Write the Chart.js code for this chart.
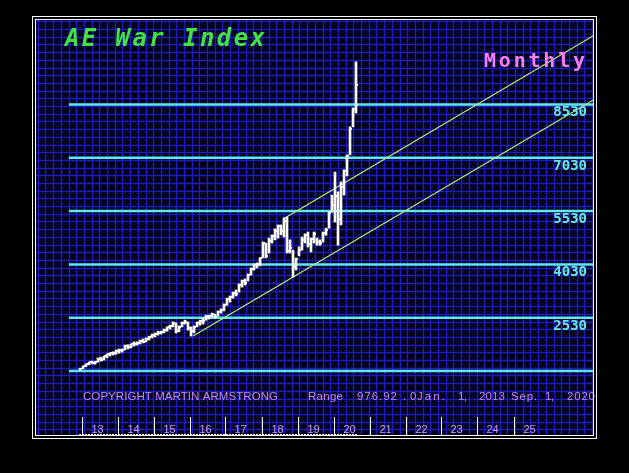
<!DOCTYPE html>
<html>
<head>
<meta charset="utf-8">
<script src="https://cdn.jsdelivr.net/npm/chart.js@4.4.1/dist/chart.umd.min.js"></script>
<style>
html, body { margin:0; padding:0; background:#000; }
#wrap { width:629px; height:473px; }
</style>
</head>
<body>
<div id="wrap"><canvas id="chart" width="629" height="473"></canvas></div>
<script>
// monthly bars, index 0 = Jan 2013 ... 92 = Sep 2020
const lows = [
  1060, 1090, 1150, 1200, 1230, 1220, 1280, 1310, 1340, 1400, 1450, 1480,
  1500, 1530, 1560, 1620, 1650, 1680, 1730, 1760, 1790, 1820, 1850, 1900,
  1960, 1990, 2040, 2070, 2100, 2150, 2210, 2270, 2100, 2130, 2270, 2350,
  2180, 2015, 2100, 2270, 2320, 2350, 2460, 2490, 2550, 2520, 2570, 2660,
  2720, 2880, 2970, 3080, 3140, 3250, 3390, 3450, 3560, 3730, 3870, 3930,
  3990, 4210, 4210, 4350, 4630, 4720, 4770, 4860, 4800, 4350, 4350, 3670,
  3870, 4270, 4430, 4630, 4520, 4380, 4630, 4570, 4570, 4660, 4850, 5050,
  5500, 5220, 4570, 5140, 5980, 6520, 7110, 7900, 8290
];
const highs = [
  1110, 1170, 1230, 1280, 1310, 1300, 1400, 1420, 1450, 1510, 1540, 1570,
  1620, 1650, 1650, 1760, 1770, 1790, 1850, 1850, 1900, 1930, 1960, 2010,
  2070, 2100, 2150, 2150, 2210, 2270, 2320, 2410, 2380, 2300, 2410, 2460,
  2410, 2270, 2300, 2410, 2460, 2520, 2600, 2600, 2660, 2630, 2720, 2780,
  2920, 3080, 3140, 3250, 3310, 3480, 3590, 3620, 3760, 3930, 4040, 4070,
  4220, 4660, 4630, 4770, 4860, 5030, 5140, 5140, 5340, 5360, 4720, 4430,
  4210, 4520, 4800, 4890, 4940, 4770, 4940, 4770, 4720, 4940, 5050, 5500,
  5980, 6630, 6070, 6350, 6690, 7110, 7900, 8430, 9730
];
const closes = [
  1100, 1160, 1220, 1270, 1250, 1290, 1380, 1340, 1440, 1500, 1530, 1540,
  1600, 1620, 1630, 1740, 1700, 1780, 1800, 1820, 1880, 1850, 1940, 1990,
  2040, 2080, 2100, 2140, 2190, 2260, 2300, 2380, 2150, 2280, 2390, 2420,
  2230, 2150, 2280, 2390, 2430, 2450, 2580, 2570, 2620, 2560, 2690, 2750,
  2900, 3050, 3100, 3220, 3200, 3450, 3560, 3520, 3730, 3900, 4000, 4040,
  4200, 4620, 4280, 4700, 4830, 4960, 5100, 4980, 5250, 4400, 4500, 3950,
  4190, 4440, 4720, 4850, 4600, 4740, 4880, 4650, 4640, 4900, 5000, 5480,
  5700, 5950, 5300, 6200, 6650, 7080, 7850, 8400, 9080
];
const levels = [1030, 2530, 4030, 5530, 7030, 8530];
const levelLabels = ["", "2530", "4030", "5530", "7030", "8530"];
const levelStart = -3.7;
const trendLower = [{x: 37.7, y: 2015}, {x: 171.4, y: 8670}];
const trendUpper = [{x: 68.3, y: 5336}, {x: 171.4, y: 10480}];
const yearLabels = ["13","14","15","16","17","18","19","20","21","22","23","24","25"];
const footer = [
  ["COPYRIGHT MARTIN ARMSTRONG", 83, 195],
  ["Range", 308, 35],
  ["976.92", 357, 40],
  [".", 403, 0],
  ["0", 410, 0],
  ["Jan.", 417, 28],
  ["1,", 458, 9],
  ["2013", 479, 26],
  ["Sep.", 511, 26],
  ["1,", 545, 9],
  ["2020", 567, 28]
];

// close tick drawn on the right of each bar
const tick = document.createElement('canvas');
tick.width = 6; tick.height = 2;
const tctx = tick.getContext('2d');
tctx.fillStyle = '#ffffff';
tctx.fillRect(3, 0, 2, 2);

function fitText(ctx, text, x, y, width) {
  ctx.letterSpacing = '0px';
  const w0 = ctx.measureText(text).width;
  if (width > 0 && text.length > 1) {
    ctx.letterSpacing = ((width - w0) / (text.length - 1)) + 'px';
  }
  ctx.textAlign = 'left';
  ctx.fillText(text, x, y);
  ctx.letterSpacing = '0px';
}

const panel = {
  id: 'panel',
  beforeDraw(chart) {
    const ctx = chart.ctx;
    ctx.save();
    ctx.fillStyle = '#000';
    ctx.fillRect(0, 0, chart.width, chart.height);
    ctx.fillStyle = '#000012';
    ctx.fillRect(35, 19, 559, 417);
    ctx.strokeStyle = '#1c1cc4';
    ctx.lineWidth = 1.4;
    ctx.beginPath();
    for (let x = 37.7; x < 594; x += 7.7) {
      ctx.moveTo(Math.round(x) + 0.5, 19); ctx.lineTo(Math.round(x) + 0.5, 436);
    }
    for (let y = 21.3; y < 436; y += 7.7) {
      ctx.moveTo(35, Math.round(y) + 0.5); ctx.lineTo(594, Math.round(y) + 0.5);
    }
    ctx.stroke();
    ctx.restore();
  },
  afterDraw(chart) {
    const ctx = chart.ctx;
    const xs = chart.scales.x, ys = chart.scales.y;
    ctx.save();
    ctx.textBaseline = 'alphabetic';

    ctx.font = 'bold italic 24px "DejaVu Sans Mono"';
    ctx.fillStyle = '#44e044';
    fitText(ctx, 'AE War Index', 65, 46, 200);

    ctx.font = 'bold 20px "DejaVu Sans Mono"';
    ctx.fillStyle = '#f880f4';
    fitText(ctx, 'Monthly', 484, 67, 101);

    ctx.font = 'bold 14px "DejaVu Sans Mono"';
    ctx.fillStyle = '#66e8f8';
    levels.forEach((lv, k) => {
      if (!levelLabels[k]) return;
      ctx.textAlign = 'right';
      ctx.fillText(levelLabels[k], 587, ys.getPixelForValue(lv) + 12);
    });

    ctx.font = '11.5px "Liberation Sans"';
    ctx.fillStyle = '#c888f4';
    footer.forEach(f => fitText(ctx, f[0], f[1], 400, f[2]));

    // year boxes
    ctx.strokeStyle = '#ffffff';
    ctx.lineWidth = 1;
    ctx.font = '11px "Liberation Sans"';
    ctx.fillStyle = '#d09cf4';
    yearLabels.forEach((lab, k) => {
      const px = Math.round(xs.getPixelForValue(12 * k + 0.5)) + 0.5;
      ctx.beginPath(); ctx.moveTo(px, 417); ctx.lineTo(px, 436); ctx.stroke();
      ctx.textAlign = 'left';
      ctx.fillText(lab, px + 9, 433);
    });
    ctx.fillStyle = '#ffffff';
    closes.forEach((c, i) => {
      const px = Math.round(xs.getPixelForValue(i));
      ctx.fillRect(px - 1, 434, 2, 1);
    });

    // double border
    ctx.strokeStyle = '#ffffff';
    ctx.strokeRect(32.5, 16.5, 564, 422);
    ctx.strokeRect(35.5, 19.5, 558, 416);
    ctx.restore();
  }
};

const datasets = [
  {
    type: 'scatter',
    data: closes.map((c, i) => ({x: i, y: c})),
    pointStyle: tick,
    pointRadius: 3,
    order: 0
  },
  {
    type: 'bar',
    data: lows.map((l, i) => ({x: i, y: [l, highs[i]]})),
    backgroundColor: '#ffffff',
    borderWidth: 0,
    barThickness: 2,
    grouped: false,
    order: 0
  },
  {
    type: 'line',
    data: trendLower,
    borderColor: '#b8f27a',
    borderWidth: 1.2,
    pointRadius: 0,
    order: 1
  },
  {
    type: 'line',
    data: trendUpper,
    borderColor: '#b8f27a',
    borderWidth: 1.2,
    pointRadius: 0,
    order: 1
  }
];
levels.forEach(lv => {
  datasets.push({
    type: 'line',
    data: [{x: levelStart, y: lv}, {x: 514 / 3, y: lv}],
    borderColor: '#5ee8fc',
    borderWidth: 2.5,
    pointRadius: 0,
    order: 2
  });
});

new Chart(document.getElementById('chart'), {
  type: 'scatter',
  data: { datasets: datasets },
  options: {
    responsive: false,
    animation: false,
    devicePixelRatio: 1,
    layout: { padding: { left: 35, right: 35, top: 19, bottom: 38 } },
    plugins: { legend: { display: false }, tooltip: { enabled: false } },
    scales: {
      x: { type: 'linear', display: false, min: -15, max: 514 / 3, offset: false },
      y: { type: 'linear', display: false, min: -771, max: 10935 }
    }
  },
  plugins: [panel]
});
</script>
</body>
</html>
